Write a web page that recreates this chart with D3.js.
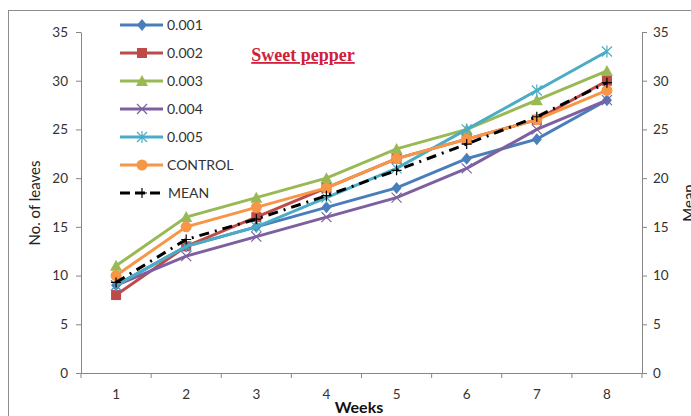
<!DOCTYPE html>
<html lang="en">
  <head>
    <meta charset="utf-8"/>
    <script src="https://d3js.org/d3.v7.min.js"></script>
    <title>Sweet pepper</title>
  </head>
  <style>
    body { margin: 0; background: #fff; }
    text { font-family: Lato, "Open Sans", sans-serif; }
  </style>
  <body>
    <svg id="chart"></svg>
  </body>
  <script>
    const weeks = ["1", "2", "3", "4", "5", "6", "7", "8"];
    const s001 = [9, 13, 15, 17, 19, 22, 24, 28];
    const s002 = [8, 13, 16, 19, 22, 24, 26, 30];
    const s003 = [11, 16, 18, 20, 23, 25, 28, 31];
    const s004 = [9, 12, 14, 16, 18, 21, 25, 28];
    const s005 = [9, 13, 15, 18, 21, 25, 29, 33];
    const control = [10, 15, 17, 19, 22, 24, 26, 29];
    const mean = [9.3, 13.7, 15.8, 18.2, 20.8, 23.5, 26.3, 29.8];
    const yTicks = [0, 5, 10, 15, 20, 25, 30, 35];

    const series = [
      {name: "0.001", values: s001, color: "#4a7ebb", marker: "diamond"},
      {name: "0.002", values: s002, color: "#be4b48", marker: "square"},
      {name: "0.003", values: s003, color: "#98b954", marker: "triangle"},
      {name: "0.004", values: s004, color: "#7d60a0", marker: "x"},
      {name: "0.005", values: s005, color: "#4bacc6", marker: "star"},
      {name: "CONTROL", values: control, color: "#f79646", marker: "circle"},
      {name: "MEAN", values: mean, color: "#000", marker: "plus", dash: "10,6,2,6"}
    ];

    const W = 691, H = 416;
    const margin = {top: 32, right: 49, bottom: 43, left: 81};
    const width = W - margin.left - margin.right,
          height = H - margin.top - margin.bottom;

    const root = d3.select("#chart").attr("width", W).attr("height", H);

    // outer chart border
    root.append("rect")
      .attr("x", 8.5).attr("y", 10.5)
      .attr("width", W).attr("height", H)
      .attr("fill", "none").attr("stroke", "#8c8c8c");

    const svg = root.append("g")
      .attr("transform", "translate(" + margin.left + "," + margin.top + ")");

    const x = d3.scaleBand().domain(weeks).range([0, width]);
    const y = d3.scaleLinear().domain([0, 35]).range([height, 0]);

    const styleAxis = (g) => {
      g.selectAll("path, line").attr("stroke", "#868686");
      g.selectAll("text").style("font-size", "13.5px").style("fill", "#333");
    };

    svg.append("g")
      .call(d3.axisLeft(y).tickValues(yTicks).tickSize(5).tickSizeOuter(0).tickPadding(8))
      .call(styleAxis);

    svg.append("g")
      .attr("transform", "translate(" + width + ",0)")
      .call(d3.axisRight(y).tickValues(yTicks).tickSize(5).tickSizeOuter(0).tickPadding(6))
      .call(styleAxis);

    const xAxis = svg.append("g")
      .attr("transform", "translate(0," + height + ")")
      .call(d3.axisBottom(x).tickSize(0).tickPadding(16))
      .call(styleAxis);
    // tick marks between categories
    xAxis.selectAll(".sep")
      .data(d3.range(weeks.length + 1))
      .enter().append("line")
        .attr("x1", (i) => i * x.step()).attr("x2", (i) => i * x.step())
        .attr("y1", 0).attr("y2", 5)
        .attr("stroke", "#868686");

    const cx = (i) => x(weeks[i]) + x.bandwidth() / 2;

    const drawMarker = (g, type, color, px, py) => {
      const s = 5;
      if (type === "diamond") {
        g.append("path").attr("d", `M${px},${py - s - 1}L${px + s},${py}L${px},${py + s + 1}L${px - s},${py}Z`).attr("fill", color);
      } else if (type === "square") {
        g.append("rect").attr("x", px - s).attr("y", py - s).attr("width", 2 * s).attr("height", 2 * s).attr("fill", color);
      } else if (type === "triangle") {
        g.append("path").attr("d", `M${px},${py - s - 1}L${px + s + 1},${py + s}L${px - s - 1},${py + s}Z`).attr("fill", color);
      } else if (type === "circle") {
        g.append("circle").attr("cx", px).attr("cy", py).attr("r", s + 0.5).attr("fill", color);
      } else if (type === "x") {
        g.append("path").attr("d", `M${px - s},${py - s}L${px + s},${py + s}M${px - s},${py + s}L${px + s},${py - s}`)
          .attr("stroke", color).attr("stroke-width", 1.2);
      } else if (type === "star") {
        g.append("path").attr("d", `M${px - s},${py - s}L${px + s},${py + s}M${px - s},${py + s}L${px + s},${py - s}M${px},${py - s - 1}L${px},${py + s + 1}`)
          .attr("stroke", color).attr("stroke-width", 1.2);
      } else if (type === "plus") {
        g.append("path").attr("d", `M${px - s},${py}L${px + s},${py}M${px},${py - s}L${px},${py + s}`)
          .attr("stroke", color).attr("stroke-width", 1.2);
      }
    };

    const line = d3.line().x((d, i) => cx(i)).y((d) => y(d));

    series.forEach((s) => {
      const g = svg.append("g");
      g.append("path")
        .datum(s.values)
        .attr("d", line)
        .attr("fill", "none")
        .attr("stroke", s.color)
        .attr("stroke-width", 3)
        .attr("stroke-dasharray", s.dash || null);
      s.values.forEach((v, i) => drawMarker(g, s.marker, s.color, cx(i), y(v)));
    });

    // legend
    const legend = root.append("g").attr("transform", "translate(120,25)");
    series.forEach((s, i) => {
      const ly = i * 28;
      legend.append("line")
        .attr("x1", 0).attr("x2", 43).attr("y1", ly).attr("y2", ly)
        .attr("stroke", s.color).attr("stroke-width", 3)
        .attr("stroke-dasharray", s.dash ? "10,5" : null);
      drawMarker(legend, s.marker, s.color, 22, ly);
      legend.append("text")
        .attr("x", s.name === "MEAN" ? 48 : 47)
        .attr("y", ly)
        .attr("dy", "0.35em")
        .style("font-size", "14px")
        .style("fill", "#333")
        .text(s.name);
    });

    // title
    root.append("text")
      .attr("x", 303).attr("y", 61)
      .attr("text-anchor", "middle")
      .style("font-family", "'Liberation Serif', serif")
      .style("font-weight", "bold")
      .style("font-size", "18px")
      .style("text-decoration", "underline")
      .style("fill", "#d0203a")
      .text("Sweet pepper");

    // axis titles
    root.append("text")
      .attr("transform", "translate(40,203) rotate(-90)")
      .attr("text-anchor", "middle")
      .style("font-size", "15px")
      .style("fill", "#222")
      .text("No. of leaves");

    root.append("text")
      .attr("transform", "translate(694,203) rotate(-90)")
      .attr("text-anchor", "middle")
      .style("font-size", "15px")
      .style("fill", "#222")
      .text("Mean");

    root.append("text")
      .attr("x", 359).attr("y", 413)
      .attr("text-anchor", "middle")
      .style("font-size", "16px")
      .style("font-weight", "bold")
      .style("fill", "#111")
      .text("Weeks");
  </script>
</html>
